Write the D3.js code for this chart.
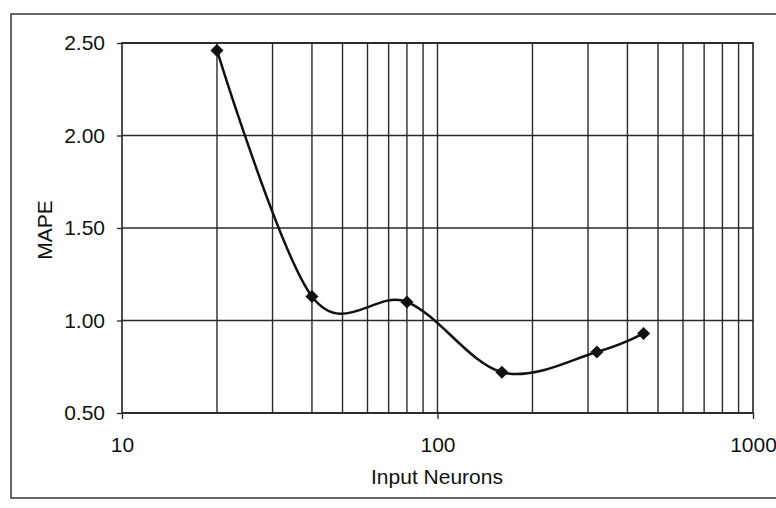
<!DOCTYPE html>
<html>
<head>
<meta charset="utf-8">
<script src="https://cdn.jsdelivr.net/npm/d3@7"></script>
<style>
  body { margin: 0; background: #fff; }
  text { font-family: "Liberation Sans", Arial, sans-serif; fill: #111; }
</style>
</head>
<body>
<div id="chart"></div>
<script>
// data
const neurons = [20, 40, 80, 160, 320, 450];
const mape = [2.46, 1.13, 1.10, 0.72, 0.83, 0.93];
const yTicks = [0.5, 1.0, 1.5, 2.0, 2.5];
const xTicks = [10, 100, 1000];

let w = 776, h = 508;
let padLeft = 122, padRight = 753, padTop = 43, padBottom = 413;
let fontSize = "21px";

let svg = d3.select("#chart").append("svg")
    .attr("width", w)
    .attr("height", h);

// outer frame
svg.append("rect")
    .attr("x", 11).attr("y", 14)
    .attr("width", 780).attr("height", 484)
    .attr("fill", "none")
    .attr("stroke", "#333")
    .attr("stroke-width", 1.5);

let xScale = d3.scaleLog().domain([10, 1000]).range([padLeft, padRight]);
let yScale = d3.scaleLinear().domain([0.5, 2.5]).range([padBottom, padTop]);

// vertical grid (major + minor of log scale)
let gridX = [];
for (let dec = 10; dec < 1000; dec *= 10) {
    for (let k = 2; k <= 9; k++) gridX.push(dec * k);
}
gridX.push(100);

svg.append("g")
    .selectAll("line")
    .data(gridX)
    .enter()
    .append("line")
    .attr("x1", d => xScale(d)).attr("x2", d => xScale(d))
    .attr("y1", padTop).attr("y2", padBottom)
    .attr("stroke", "#2a2a2a")
    .attr("stroke-width", 1.4);

// horizontal grid
svg.append("g")
    .selectAll("line")
    .data(yTicks)
    .enter()
    .append("line")
    .attr("x1", padLeft).attr("x2", padRight)
    .attr("y1", d => yScale(d)).attr("y2", d => yScale(d))
    .attr("stroke", "#2a2a2a")
    .attr("stroke-width", 1.4);

// plot border
svg.append("rect")
    .attr("x", padLeft).attr("y", padTop)
    .attr("width", padRight - padLeft).attr("height", padBottom - padTop)
    .attr("fill", "none")
    .attr("stroke", "#222")
    .attr("stroke-width", 1.6);

// axes
let yAxis = d3.axisLeft(yScale)
    .tickValues(yTicks)
    .tickFormat(d3.format(".2f"))
    .tickSize(5)
    .tickPadding(12);

svg.append("g")
    .attr("transform", `translate(${padLeft}, 0)`)
    .call(yAxis)
    .call(g => g.select(".domain").remove())
    .call(g => g.selectAll("line").attr("stroke", "#222").attr("stroke-width", 1.3))
    .selectAll("text")
    .attr("font-size", fontSize)
    .attr("font-family", "Liberation Sans, Arial, sans-serif")
    .attr("fill", "#111");

let xAxis = d3.axisBottom(xScale)
    .tickValues(xTicks)
    .tickFormat(d3.format("d"))
    .tickSize(6)
    .tickPadding(18);

svg.append("g")
    .attr("transform", `translate(0, ${padBottom})`)
    .call(xAxis)
    .call(g => g.select(".domain").remove())
    .call(g => g.selectAll("line").attr("stroke", "#222").attr("stroke-width", 1.3))
    .selectAll("text")
    .attr("font-size", fontSize)
    .attr("font-family", "Liberation Sans, Arial, sans-serif")
    .attr("fill", "#111");

// axis titles
svg.append("text")
    .attr("x", 437).attr("y", 484)
    .attr("text-anchor", "middle")
    .attr("font-size", fontSize)
    .text("Input Neurons");

svg.append("text")
    .attr("transform", "translate(52, 230) rotate(-90)")
    .attr("text-anchor", "middle")
    .attr("font-size", fontSize)
    .text("MAPE");

// smoothed line
let points = neurons.map((n, i) => ({ x: n, y: mape[i] }));

let line = d3.line()
    .x(d => xScale(d.x))
    .y(d => yScale(d.y))
    .curve(d3.curveCatmullRom.alpha(0));

svg.append("path")
    .datum(points)
    .attr("d", line)
    .attr("fill", "none")
    .attr("stroke", "#111")
    .attr("stroke-width", 2.5);

// diamond markers
svg.append("g")
    .selectAll("path")
    .data(points)
    .enter()
    .append("path")
    .attr("transform", d => `translate(${xScale(d.x)}, ${yScale(d.y)}) rotate(45)`)
    .attr("d", d3.symbol().type(d3.symbolSquare).size(85))
    .attr("fill", "#111");
</script>
</body>
</html>
